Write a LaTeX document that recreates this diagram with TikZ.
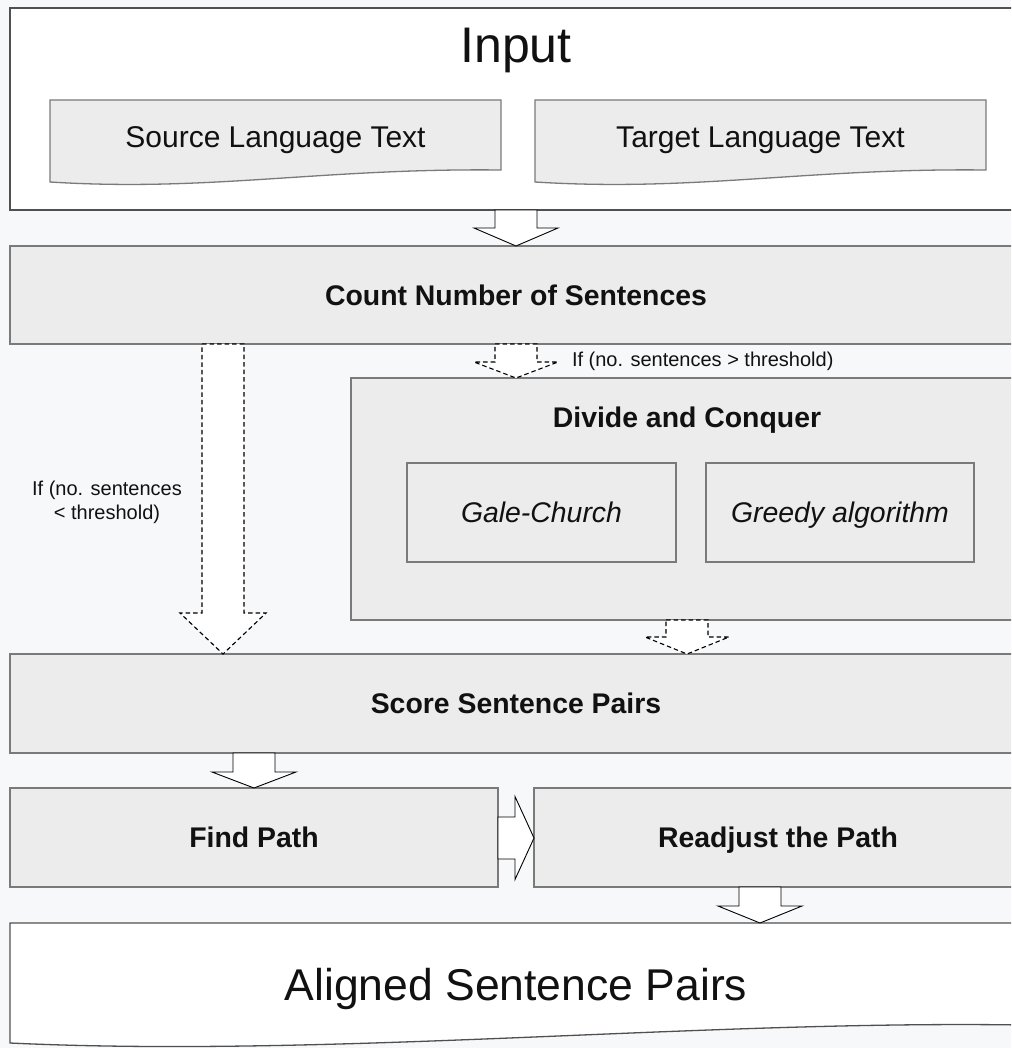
\documentclass[tikz,border=0pt]{standalone}
\usepackage{fontspec}
\setmainfont{Liberation Sans}
\usetikzlibrary{calc}
\definecolor{bgc}{HTML}{F7F8FA}
\definecolor{boxc}{HTML}{ECECEC}
\definecolor{brd}{HTML}{7A7A7A}
\definecolor{brdd}{HTML}{505050}
\definecolor{txt}{HTML}{111111}
\newcommand\fsz[2]{\fontsize{#1}{#2}\selectfont}
% vertical block arrow: style, from, to, x, shaft half, head half, head length
\newcommand\blkdown[7]{\draw[#1] let \p1=(#2), \p2=(#3) in
  (#4pt-#5pt,\y1) -- (#4pt+#5pt,\y1) -- (#4pt+#5pt,\y2+#7pt) -- (#4pt+#6pt,\y2+#7pt)
  -- (#4pt,\y2) -- (#4pt-#6pt,\y2+#7pt) -- (#4pt-#5pt,\y2+#7pt) -- cycle;}
% horizontal block arrow: style, from, to, y (down), shaft half, head half, head length
\newcommand\blkright[7]{\draw[#1] let \p1=(#2), \p2=(#3) in
  (\x1,-#4pt+#5pt) -- (\x2-#7pt,-#4pt+#5pt) -- (\x2-#7pt,-#4pt+#6pt) -- (\x2,-#4pt)
  -- (\x2-#7pt,-#4pt-#6pt) -- (\x2-#7pt,-#4pt-#5pt) -- (\x1,-#4pt-#5pt) -- cycle;}
\begin{document}
\begin{tikzpicture}[x=1pt,y=-1pt,
  every node/.style={text=txt, inner sep=0pt, outer sep=0pt},
  box/.style={draw=brd, line width=1.3pt, fill=boxc, rectangle},
  wbox/.style={draw=brdd, line width=1.3pt, fill=white, rectangle},
  docst/.style={draw=brd, line width=1.3pt, fill=boxc},
  wdocst/.style={draw=brdd, line width=1.3pt, fill=white},
  bold28/.style={font=\fsz{28.4}{34}\bfseries, text height=20.3pt, text depth=0pt},
  ital28/.style={font=\fsz{28.4}{34}\itshape, text height=20.3pt, text depth=0pt},
  reg30/.style={font=\fsz{30}{36}, text height=21.5pt, text depth=0pt},
  small20/.style={font=\fsz{20}{24}},
  arr/.style={draw=black, line width=0.9pt, fill=white, line join=miter},
  darr/.style={draw=black, line width=1.1pt, fill=white, dash pattern=on 4.5pt off 3pt}]
\useasboundingbox (0,0) rectangle (1011,1048);
\clip (0,0) rectangle (1011,1048);
\fill[bgc] (0,0) rectangle (1011,1048);

% Input
\node[wbox, minimum width=1012pt, minimum height=202pt] (input) at (516,109) {};
\node[font=\fsz{50}{60}, anchor=base] (inputlabel) at (516,63) {Input};
\draw[docst] (50,100) -- (501,100) -- (501,170) .. controls (321,168) and (210,192) .. (50,182) -- cycle;
\node[reg30, minimum width=451pt, minimum height=74pt] (src) at (275.5,137) {Source Language Text};
\draw[docst] (535,100) -- (986,100) -- (986,170) .. controls (806,168) and (695,192) .. (535,182) -- cycle;
\node[reg30, minimum width=451pt, minimum height=74pt] (tgt) at (760.5,137) {Target Language Text};

% Count
\node[box, bold28, minimum width=1012pt, minimum height=98pt] (count) at (516,295) {Count Number of Sentences};

% Divide and conquer
\node[box, minimum width=671pt, minimum height=242pt] (div) at (686.5,499) {};
\node[font=\fsz{28.4}{34}\bfseries, anchor=base] (divtitle) at (687,427) {Divide and Conquer};
\node[box, ital28, minimum width=269pt, minimum height=99pt] (gale) at (541.5,512.5) {Gale-Church};
\node[box, ital28, minimum width=268pt, minimum height=99pt] (greedy) at (840,512.5) {Greedy algorithm};

% Score
\node[box, bold28, minimum width=1012pt, minimum height=99pt] (score) at (516,703.5) {Score Sentence Pairs};

% Find / Readjust
\node[box, bold28, minimum width=488pt, minimum height=99pt] (find) at (254,837.5) {Find Path};
\node[box, bold28, minimum width=488pt, minimum height=99pt] (readj) at (778,837.5) {Readjust the Path};

% Aligned
\draw[wdocst] (10,923) -- (1022,923) -- (1022,1025) .. controls (700,1020) and (330,1058) .. (10,1043) -- cycle;
\node[font=\fsz{44.5}{52}, text height=31.9pt, text depth=0pt, minimum width=1012pt, minimum height=124pt] (aligned) at (516,985) {Aligned Sentence Pairs};

% labels
\node[small20, anchor=base west] (gtlabel) at (572,366) {If (no. sentences > threshold)};
\node[small20, align=center] (ltlabel) at (107,502) {If (no. sentences\\< threshold)};

% arrows
\blkdown{arr}{input.south}{count.north}{516}{21}{42}{18}
\blkdown{darr}{count.south}{score.north}{223}{21}{43}{41}
\blkdown{darr}{count.south}{div.north}{516}{21}{42}{16}
\blkdown{darr}{div.south}{score.north}{687}{21}{42}{17}
\blkdown{arr}{score.south}{find.north}{254}{21}{42}{16}
\blkright{arr}{find.east}{readj.west}{838}{21}{41.5}{19}
\blkdown{arr}{readj.south}{aligned.north}{760}{21}{42}{17}
\end{tikzpicture}
\end{document}
